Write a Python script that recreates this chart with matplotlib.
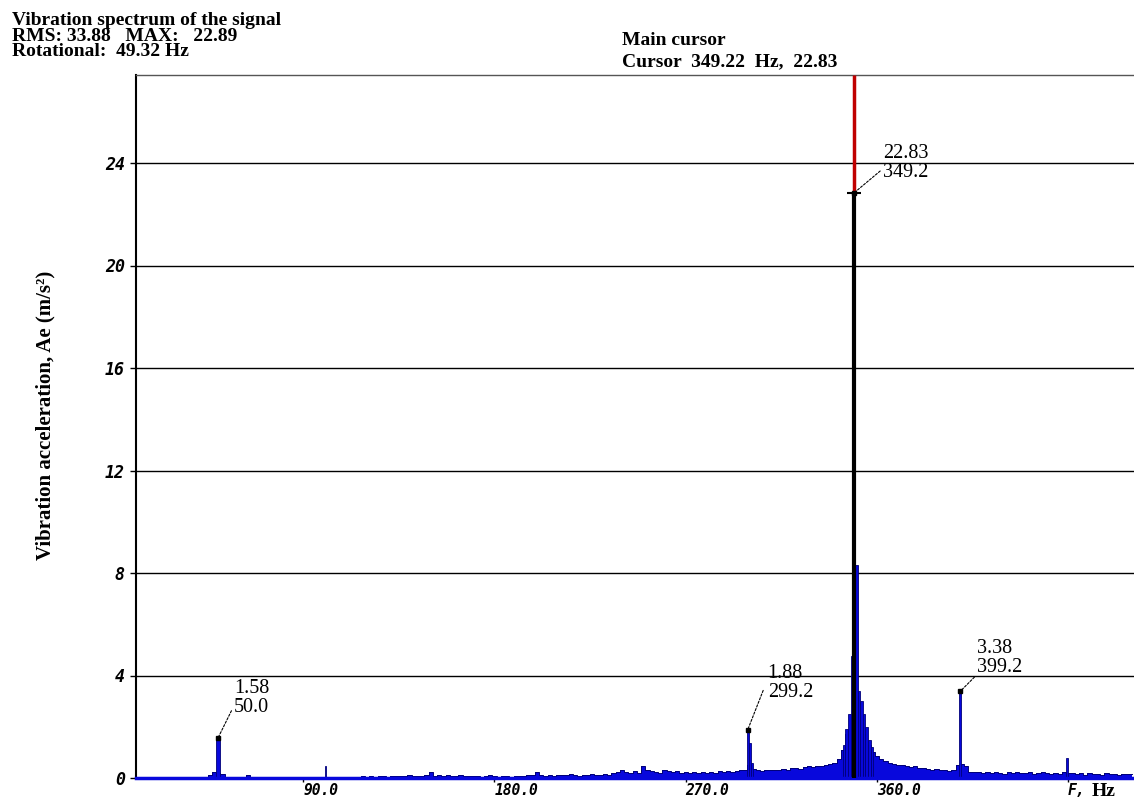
import numpy as np
import matplotlib.pyplot as plt

# ---- data ----
# noise floor, 2 Hz bins centred on 12, 14, ..., 480 Hz
floor_start, floor_step = 12, 2
floor_amp = [
    0, 0, 0, 0, 0, 0, 0, 0, 0, 0.01,
    0.03, 0.02, 0.03, 0.02, 0.03, 0.04, 0.05, 0.12, 0.22, 0.2,
    0.15, 0.04, 0.02, 0.01, 0.01, 0.02, 0.12, 0.03, 0.01, 0.01,
    0.01, 0.01, 0.02, 0.01, 0.01, 0.01, 0.01, 0.02, 0.01, 0.01,
    0.01, 0.01, 0.02, 0.01, 0.03, 0.05, 0.02, 0.01, 0.02, 0.01,
    0.02, 0.03, 0.05, 0.06, 0.04, 0.07, 0.05, 0.06, 0.08, 0.05,
    0.08, 0.06, 0.09, 0.07, 0.1, 0.08, 0.06, 0.09, 0.1, 0.22,
    0.08, 0.1, 0.07, 0.11, 0.09, 0.06, 0.1, 0.08, 0.06, 0.09,
    0.07, 0.05, 0.08, 0.1, 0.06, 0.05, 0.09, 0.07, 0.05, 0.08,
    0.06, 0.09, 0.1, 0.12, 0.22, 0.1, 0.08, 0.12, 0.09, 0.11,
    0.13, 0.1, 0.15, 0.12, 0.09, 0.13, 0.11, 0.14, 0.1, 0.12,
    0.15, 0.13, 0.18, 0.22, 0.3, 0.25, 0.2, 0.28, 0.18, 0.45,
    0.3, 0.27, 0.25, 0.2, 0.3, 0.26, 0.22, 0.28, 0.2, 0.23,
    0.2, 0.25, 0.18, 0.22, 0.2, 0.24, 0.21, 0.26, 0.23, 0.27,
    0.25, 0.28, 0.3, 0.3, 0.5, 0.35, 0.3, 0.28, 0.3, 0.32,
    0.3, 0.33, 0.35, 0.32, 0.38, 0.4, 0.36, 0.42, 0.45, 0.42,
    0.45, 0.48, 0.5, 0.55, 0.6, 0.75, 1.1, 1.7, 2.4, 3.2,
    2.4, 1.7, 1.3, 1.0, 0.85, 0.75, 0.65, 0.6, 0.55, 0.5,
    0.5, 0.45, 0.42, 0.45, 0.38, 0.4, 0.35, 0.33, 0.36, 0.3,
    0.32, 0.28, 0.3, 0.5, 0.55, 0.45, 0.25, 0.22, 0.25, 0.2,
    0.22, 0.18, 0.25, 0.2, 0.17, 0.22, 0.19, 0.24, 0.18, 0.2,
    0.22, 0.17, 0.2, 0.23, 0.18, 0.15, 0.2, 0.16, 0.25, 0.18,
    0.2, 0.15, 0.18, 0.12, 0.2, 0.15, 0.17, 0.13, 0.18, 0.15,
    0.17, 0.12, 0.16, 0.14, 0.15,
]

# narrow spectral lines on top of the floor
line_freq = [50.0, 100.6, 299.2, 300.3, 301.3, 344.5, 345.8, 347.0, 348.4,
             350.3, 351.6, 352.8, 354.0, 355.2, 356.4, 357.6, 399.2, 449.5]
line_amp = [1.58, 0.45, 1.88, 1.35, 0.6, 1.3, 1.9, 2.5, 4.75,
            8.3, 3.4, 3.0, 2.5, 2.0, 1.5, 1.2, 3.38, 0.78]
line_width = [2.0, 0.6, 1.0, 1.0, 1.0, 1.2, 1.2, 1.2, 1.3,
              1.2, 1.2, 1.2, 1.2, 1.2, 1.2, 1.2, 0.8, 0.6]

# main cursor
cursor_freq = 349.2
cursor_amp = 22.83

# labelled peaks
ann_freq = [50.0, 299.2, 349.2, 399.2]
ann_amp = [1.58, 1.88, 22.83, 3.38]

y_ticks = [0, 4, 8, 12, 16, 20, 24]
x_ticks = [90, 180, 270, 360, 450]
x_tick_labels = ['90.0', '180.0', '270.0', '360.0', 'F,']

header_left = ['Vibration spectrum of the signal',
               'RMS: 33.88   MAX:   22.89',
               'Rotational:  49.32 Hz']
header_right = ['Main cursor', 'Cursor  349.22  Hz,  22.83']

# ---- layout ----
W, H = 1134, 800
fig = plt.figure(figsize=(W / 100, H / 100), dpi=100)
ax = fig.add_axes([136 / W, 22 / H, 998 / W, 703 / H])
ymax = 703 / 25.625
ax.set_xlim(11.3, 481.0)
ax.set_ylim(0, ymax)

blue = '#0808dc'
navy = '#000078'

freq_floor = floor_start + floor_step * np.arange(len(floor_amp))
ax.fill_between(freq_floor, floor_amp, step='mid', color=blue, lw=0, zorder=3)
ax.step(freq_floor, floor_amp, where='mid', color=navy, lw=0.7, zorder=3)
ax.bar(line_freq, line_amp, width=line_width, color=blue, edgecolor=navy,
       lw=0.6, zorder=4)
ax.axhline(0, color=blue, lw=2.5, zorder=5, clip_on=False)

# cursor line: black below the peak value, red above
ax.vlines(cursor_freq, 0, cursor_amp, color='black', lw=3, zorder=6)
ax.vlines(cursor_freq, cursor_amp, ymax, color='#c00000', lw=2.5, zorder=6)
ax.plot(cursor_freq, cursor_amp, marker='_', ms=10, mew=1.5, color='black',
        zorder=7)

# peak labels: offset of text box (pixels) and leader attach point
label_offsets = [(16, 21), (20, 28), (29, 11), (17, 14)]
label_relpos = [(0.08, 0.45), (-0.1, 0.3), (0.0, 0.35), (0.0, 0.08)]
for f, a, off, rp in zip(ann_freq, ann_amp, label_offsets, label_relpos):
    ax.annotate(f'{a:.2f}\n{f:.1f}', xy=(f, a), xytext=off,
                textcoords='offset pixels', ha='left', va='bottom',
                fontsize=14.5, family='Liberation Serif', linespacing=1.0,
                zorder=8,
                arrowprops=dict(arrowstyle='-', color='black', lw=0.8,
                                linestyle=(0, (2, 1.5)), shrinkA=0,
                                shrinkB=0, relpos=rp))
    ax.plot(f, a, marker='s', ms=2.5, color='black', zorder=7)

# grid and axes styling
ax.set_yticks(y_ticks)
ax.set_yticklabels([str(v) for v in y_ticks])
ax.set_xticks(x_ticks)
ax.set_xticklabels(x_tick_labels, ha='left')
ax.yaxis.grid(True, color='black', lw=1)
ax.set_axisbelow(True)
for lab in ax.get_yticklabels():
    lab.set_fontproperties(dict(family='DejaVu Sans Mono', weight='bold',
                                style='oblique', size=12))
for lab in ax.get_xticklabels():
    lab.set_fontproperties(dict(family='DejaVu Sans Mono', weight='bold',
                                style='oblique', size=10.5))
ax.tick_params(axis='y', length=4, width=1, pad=4)
ax.tick_params(axis='x', length=3, width=1, pad=0.5)
ax.spines['left'].set_linewidth(1.5)
ax.spines['top'].set_color('#555555')
ax.spines['top'].set_linewidth(1)
ax.spines['right'].set_visible(False)
ax.spines['bottom'].set_visible(False)

# texts around the plot
serif_bold = dict(family='Liberation Serif', weight='bold', size=14)
for txt, base in zip(header_left, [25, 41, 56]):
    fig.text(12 / W, 1 - base / H, txt, va='baseline', ha='left', **serif_bold)
for txt, base in zip(header_right, [45, 66]):
    fig.text(622 / W, 1 - base / H, txt, va='baseline', ha='left', **serif_bold)
fig.text(1092 / W, 1 - 796 / H, 'Hz', va='baseline', ha='left', **serif_bold)
fig.text(45 / W, 1 - 415 / H, 'Vibration acceleration, Ae (m/s\u00b2)',
         rotation=90, va='center', ha='center', family='Liberation Serif',
         weight='bold', size=15)

fig.savefig('out.png', dpi=100)
